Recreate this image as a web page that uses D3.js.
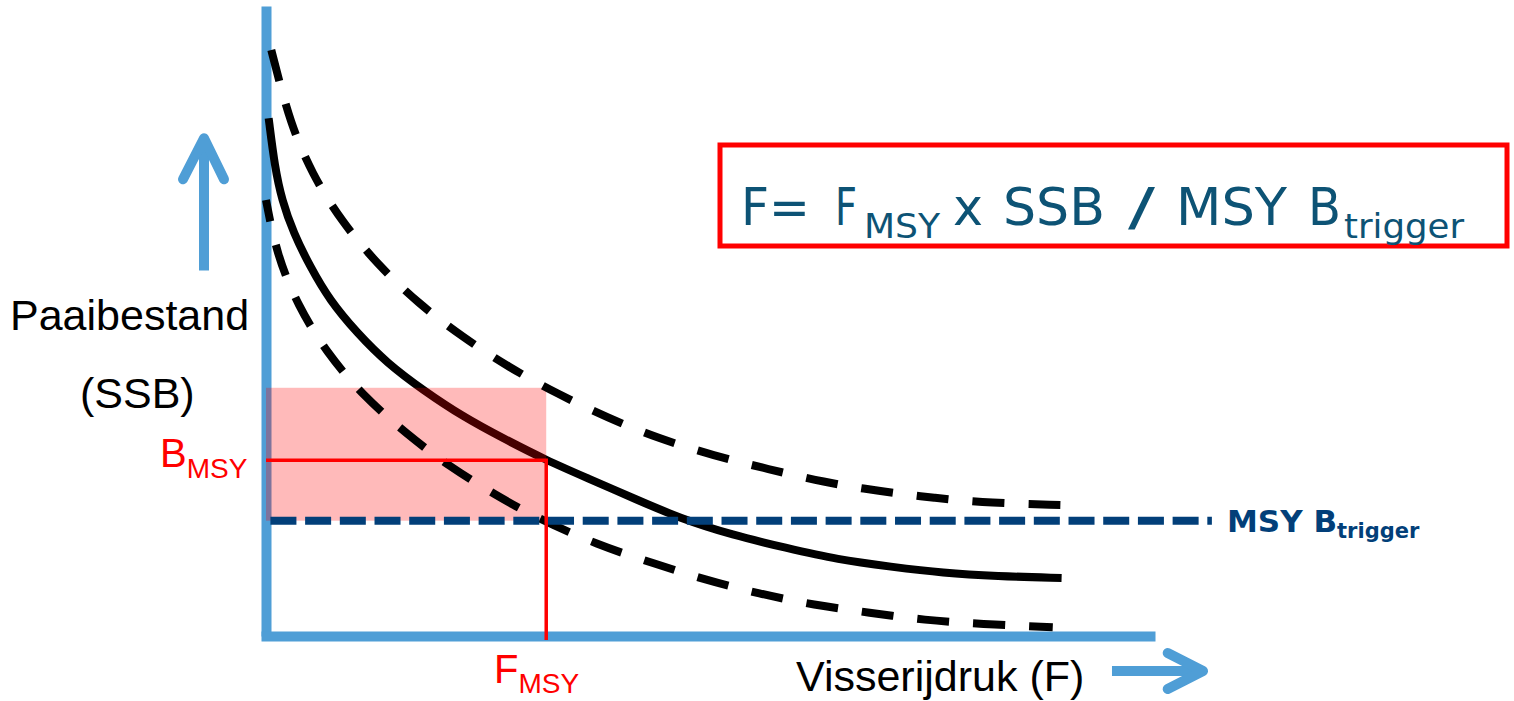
<!DOCTYPE html>
<html>
<head>
<meta charset="utf-8">
<script src="https://cdn.jsdelivr.net/npm/d3@7"></script>
<style>
  body { margin: 0; background: #fff; }
  svg { display: block; }
</style>
</head>
<body>
<script>
// Harvest control rule sketch: SSB against fishing pressure F
// curve values are [F, SSB] in arbitrary units (0-10 on both axes)

var fmsyCurve = [
  [0.03, 8.22], [0.10, 7.44], [0.18, 6.92], [0.31, 6.40], [0.50, 5.86],
  [0.72, 5.33], [1.03, 4.81], [1.37, 4.33], [1.78, 3.90], [2.23, 3.48],
  [2.68, 3.14], [3.17, 2.79], [3.63, 2.51], [4.20, 2.16], [4.68, 1.87],
  [5.28, 1.60], [5.88, 1.40], [6.47, 1.21], [7.07, 1.10], [7.66, 1.00],
  [8.26, 0.95], [9.00, 0.92]
];
var upperCurve = [
  [0.06, 9.30], [0.11, 9.03], [0.27, 8.16], [0.52, 7.33], [0.86, 6.57],
  [1.26, 5.90], [1.72, 5.28], [2.22, 4.75], [2.74, 4.27], [3.30, 3.84],
  [3.87, 3.46], [4.43, 3.14], [5.07, 2.86], [5.68, 2.65], [6.31, 2.44],
  [6.93, 2.30], [7.56, 2.19], [8.19, 2.11], [9.00, 2.08]
];
var lowerCurve = [
  [0.00, 6.92], [0.12, 6.06], [0.36, 5.24], [0.69, 4.49], [1.10, 3.81],
  [1.58, 3.22], [2.08, 2.68], [2.62, 2.22], [3.04, 1.89], [3.76, 1.44],
  [4.37, 1.16], [4.97, 0.89], [5.58, 0.67], [6.20, 0.49], [6.83, 0.37],
  [7.45, 0.25], [8.09, 0.19], [8.90, 0.14]
];

// reference points
var fMsy = 3.17,
    bMsy = 2.79,
    bTrigger = 1.83,
    bRangeTop = 3.94,
    triggerEnd = 10.7;

// formula pieces: text, x start, subscript?, width
var formulaParts = [
  ["F=", 741, false, 69],
  ["F", 835, false, 22],
  ["MSY", 864, true, 76],
  ["x", 953, false, 30],
  ["SSB", 1003, false, 102],
  ["/", 1128, false, 27],
  ["MSY", 1176, false, 111],
  ["B", 1308, false, 33],
  ["trigger", 1344, true, 120]
];

var W = 1514, H = 701;
var blue = "#4f9ed6", navy = "#023f79", teal = "#0d5375";

var svg = d3.select("body").append("svg")
    .attr("width", W)
    .attr("height", H);

var x = d3.scaleLinear().domain([0, 10]).range([266, 1150]);
var y = d3.scaleLinear().domain([0, 10]).range([636, 6]);

// basis smooths out the reading noise in the points
var line = d3.line()
    .x(function(d) { return x(d[0]); })
    .y(function(d) { return y(d[1]); })
    .curve(d3.curveBasis);

// axes, no ticks, just thick blue lines
var yAxis = svg.append("g")
    .attr("transform", "translate(" + x(0) + ",0)")
    .call(d3.axisLeft(y).tickValues([]).tickSizeOuter(0));
var xAxis = svg.append("g")
    .attr("transform", "translate(0," + y(0) + ")")
    .call(d3.axisBottom(x).tickValues([]).tickSizeOuter(0));
yAxis.select(".domain").attr("stroke", blue).attr("stroke-width", 10);
xAxis.select(".domain").attr("stroke", blue).attr("stroke-width", 10)
    .attr("stroke-linecap", "square");

// solid curve at Fmsy
svg.append("path")
    .datum(fmsyCurve)
    .attr("d", line)
    .attr("fill", "none")
    .attr("stroke", "#000")
    .attr("stroke-width", 8);

// pink band between Btrigger and upper SSB, left of Fmsy
svg.append("rect")
    .attr("x", x(0))
    .attr("y", y(bRangeTop))
    .attr("width", x(fMsy) - x(0))
    .attr("height", y(bTrigger) - y(bRangeTop))
    .attr("fill", "#ff0000")
    .attr("fill-opacity", 0.27);

// dashed range curves
svg.append("path")
    .datum(upperCurve)
    .attr("d", line)
    .attr("fill", "none")
    .attr("stroke", "#000")
    .attr("stroke-width", 8)
    .attr("stroke-dasharray", "32,24");
svg.append("path")
    .datum(lowerCurve)
    .attr("d", line)
    .attr("fill", "none")
    .attr("stroke", "#000")
    .attr("stroke-width", 8)
    .attr("stroke-dasharray", "32,24")
    .attr("stroke-dashoffset", 10);

// MSY Btrigger line
svg.append("line")
    .attr("x1", x(0.05)).attr("x2", x(triggerEnd))
    .attr("y1", y(bTrigger)).attr("y2", y(bTrigger))
    .attr("stroke", navy)
    .attr("stroke-width", 8)
    .attr("stroke-dasharray", "26,8.7");

// Bmsy / Fmsy red guides
svg.append("path")
    .attr("d", "M" + x(0) + "," + y(bMsy) + "H" + x(fMsy) + "V" + (y(0) + 4))
    .attr("fill", "none")
    .attr("stroke", "#ff0000")
    .attr("stroke-width", 3.5);

// arrows next to axes
var arrowPath = function(d) {
    return d3.line()(d);
};
svg.append("path")
    .attr("d", arrowPath([[x(0) - 62, y(5.8)], [x(0) - 62, y(7.9)]]))
    .attr("stroke", blue).attr("stroke-width", 10).attr("fill", "none");
svg.append("path")
    .attr("d", arrowPath([[x(0) - 83, y(7.25)], [x(0) - 62, y(7.9)], [x(0) - 42, y(7.25)]]))
    .attr("stroke", blue).attr("stroke-width", 10).attr("fill", "none")
    .attr("stroke-linecap", "round").attr("stroke-linejoin", "round");
svg.append("path")
    .attr("d", arrowPath([[x(9.57), y(0) + 35], [x(10.6), y(0) + 35]]))
    .attr("stroke", blue).attr("stroke-width", 10).attr("fill", "none");
svg.append("path")
    .attr("d", arrowPath([[x(10.2), y(0) + 17], [x(10.6), y(0) + 35], [x(10.2), y(0) + 53]]))
    .attr("stroke", blue).attr("stroke-width", 10).attr("fill", "none")
    .attr("stroke-linecap", "round").attr("stroke-linejoin", "round");

// axis titles
var sans = "'Liberation Sans', Arial, sans-serif";
svg.append("text")
    .attr("x", 10).attr("y", 330)
    .attr("font-family", sans).attr("font-size", 43)
    .text("Paaibestand");
svg.append("text")
    .attr("x", 80).attr("y", 408)
    .attr("font-family", sans).attr("font-size", 43)
    .text("(SSB)");
svg.append("text")
    .attr("x", 796).attr("y", 691)
    .attr("font-family", sans).attr("font-size", 43)
    .text("Visserijdruk (F)");

// red reference labels
var bLab = svg.append("text")
    .attr("x", 160).attr("y", 467)
    .attr("font-family", sans).attr("fill", "#ff0000")
    .attr("font-size", 40);
bLab.append("tspan").text("B");
bLab.append("tspan").attr("font-size", 28).attr("dy", 11).text("MSY");

var fLab = svg.append("text")
    .attr("x", 494).attr("y", 683)
    .attr("font-family", sans).attr("fill", "#ff0000")
    .attr("font-size", 40);
fLab.append("tspan").text("F");
fLab.append("tspan").attr("font-size", 28).attr("dy", 10).text("MSY");

// Btrigger label
var tLab = svg.append("text")
    .attr("x", 1227).attr("y", 532)
    .attr("font-family", "'DejaVu Sans', Verdana, sans-serif")
    .attr("font-weight", "bold")
    .attr("fill", navy)
    .attr("font-size", 31);
tLab.append("tspan").text("MSY B");
tLab.append("tspan").attr("font-size", 21).attr("dy", 6).text("trigger");

// formula box
svg.append("rect")
    .attr("x", 720).attr("y", 145)
    .attr("width", 787).attr("height", 101)
    .attr("fill", "none")
    .attr("stroke", "#ff0000")
    .attr("stroke-width", 5);

svg.selectAll(".formula")
    .data(formulaParts)
    .enter()
    .append("text")
    .attr("class", "formula")
    .attr("x", function(d) { return d[1]; })
    .attr("y", function(d) { return d[2] ? 238 : 225; })
    .attr("font-family", "'DejaVu Sans Condensed', 'DejaVu Sans', Verdana, sans-serif")
    .attr("font-stretch", "condensed")
    .attr("font-size", function(d) { return d[2] ? 34 : 51; })
    .attr("fill", teal)
    .attr("textLength", function(d) { return d[3]; })
    .attr("lengthAdjust", "spacingAndGlyphs")
    .text(function(d) { return d[0]; });
</script>
</body>
</html>
